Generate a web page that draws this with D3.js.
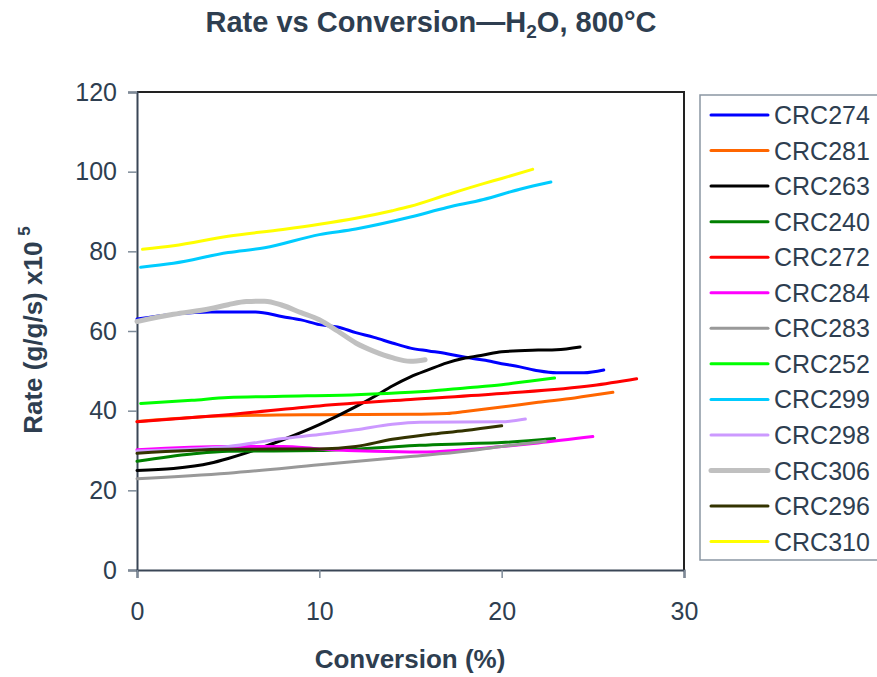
<!DOCTYPE html>
<html>
<head>
<meta charset="utf-8">
<script src="https://cdn.jsdelivr.net/npm/d3@7"></script>
<style>
  body { margin: 0; background: #fff; }
  text { font-family: "Liberation Sans", Arial, sans-serif; fill: #2e3e50; }
</style>
</head>
<body>
<svg width="877" height="677"></svg>
<script>
// series names, in legend order
var names = ["CRC274", "CRC281", "CRC263", "CRC240", "CRC272", "CRC284", "CRC283",
             "CRC252", "CRC299", "CRC298", "CRC306", "CRC296", "CRC310"];

var colors = ["#0000ff", "#ff6600", "#000000", "#008000", "#ff0000", "#ff00ff", "#999999",
              "#00ff00", "#00ccff", "#cc99ff", "#c0c0c0", "#333300", "#ffff00"];

// [conversion %, rate x10^5]
var crc274 = [[0,63],[2,64.2],[4,64.8],[6.5,64.8],[8,63.6],[9,62.8],[10,61.6],[11,61],[12,59.6],[13,58.4],[14,57],[15,55.7],[16,55],[17,54.3],[18,53.4],[19,52.7],[20,51.8],[21,51],[22,50],[23,49.5],[24.5,49.5],[25.6,50.2]];
var crc281 = [[0,37.3],[3,38.3],[5,38.7],[10,39],[15,39.1],[17,39.3],[18,39.8],[20,40.9],[22,42.1],[24,43.2],[26.1,44.6]];
var crc263 = [[0,25],[2,25.5],[4,26.8],[5,28],[6,29.4],[8,32.7],[10,36.5],[12,41],[13,43.5],[14,46.2],[15,48.5],[16,50.3],[17,52],[18,53.2],[19,54],[20,54.8],[22,55.2],[23,55.3],[24.3,56]];
var crc240 = [[0,27.3],[3,29.1],[5,29.8],[10,30],[13,30.6],[15.5,31.3],[18,31.7],[20,32],[22.9,33]];
var crc272 = [[0,37.2],[5,39],[10,41.2],[15,42.8],[20,44.3],[25,46.3],[27.4,48]];
var crc284 = [[0,30.2],[5,31],[8,31],[10,30.4],[13,29.8],[15.5,29.6],[18,30.2],[20,31],[22,31.9],[25,33.5]];
var crc283 = [[0,22.9],[5,24.3],[10,26.4],[15,28.5],[18,29.8],[20,31],[22.4,32.3]];
var crc252 = [[0.2,41.8],[3,42.6],[5,43.3],[8,43.6],[12,44],[15,44.6],[16,44.9],[18,45.7],[20,46.5],[21.5,47.4],[22.9,48.2]];
var crc299 = [[0.2,76],[2,77],[5,79.7],[7,80.9],[10,84.2],[12,85.6],[15,88.6],[17,91],[19,93],[21,95.6],[22.7,97.4]];
var crc298 = [[0,29.9],[5,31],[8,33],[10,34],[12,35.2],[14,36.6],[15.5,37.1],[20,37.2],[21.3,37.9]];
var crc306 = [[0,62.4],[2,64.2],[4,65.6],[5,66.6],[6,67.4],[7,67.5],[8,66.4],[9,64.6],[10,62.8],[11,60],[12,57],[13,54.9],[14,53.3],[15,52.4],[15.8,52.8]];
var crc296 = [[0,29.3],[5,30.3],[10,30.4],[12,31],[14,32.8],[16,34],[18,35],[20,36.2]];
var crc310 = [[0.3,80.5],[2,81.4],[5,83.8],[8,85.5],[10,86.8],[12,88.3],[14,90.2],[15,91.3],[17,94.2],[19,97],[20,98.3],[21.7,100.6]];

var seriesData = [crc274, crc281, crc263, crc240, crc272, crc284, crc283,
                  crc252, crc299, crc298, crc306, crc296, crc310];

var xTicks = [0, 10, 20, 30];
var yTicks = [0, 20, 40, 60, 80, 100, 120];

draw();

function draw() {
  var svg = d3.select("svg");
  var plotLeft = 137, plotRight = 684, plotTop = 92, plotBottom = 570;

  var x = d3.scaleLinear().domain([0, 30]).range([plotLeft, plotRight]);
  var y = d3.scaleLinear().domain([0, 120]).range([plotBottom, plotTop]);

  // title
  svg.append("text")
    .attr("x", 431).attr("y", 32)
    .attr("text-anchor", "middle")
    .style("font-size", "29px").style("font-weight", "bold")
    .html('Rate vs Conversion\u2014H<tspan font-size="19px" dy="6">2</tspan><tspan dy="-6">O, 800\u00b0C</tspan>');

  // frame top/right
  svg.append("path")
    .attr("d", "M" + plotLeft + "," + plotTop + "H" + plotRight + "V" + plotBottom)
    .attr("fill", "none").attr("stroke", "#222").attr("stroke-width", 2);

  // axes
  var yAxis = svg.append("g")
    .attr("transform", "translate(" + plotLeft + ",0)")
    .call(d3.axisLeft(y).tickValues(yTicks).tickSize(9).tickPadding(11));
  var xAxis = svg.append("g")
    .attr("transform", "translate(0," + plotBottom + ")")
    .call(d3.axisBottom(x).tickValues(xTicks).tickSize(8).tickPadding(24));

  [yAxis, xAxis].forEach(function(a) {
    a.select(".domain").attr("stroke", "#3a4656").attr("stroke-width", 2);
    a.selectAll(".tick line").attr("stroke", "#7d8a98").attr("stroke-width", 1.5);
    a.selectAll(".tick text")
      .style("font-size", "25px")
      .style("font-family", '"Liberation Sans", Arial, sans-serif')
      .attr("fill", "#2e3e50");
  });

  // axis titles
  svg.append("text")
    .attr("x", 410).attr("y", 668)
    .attr("text-anchor", "middle")
    .style("font-size", "26px").style("font-weight", "bold")
    .text("Conversion (%)");

  svg.append("text")
    .attr("transform", "translate(42,330) rotate(-90)")
    .attr("text-anchor", "middle")
    .style("font-size", "26px").style("font-weight", "bold")
    .html('Rate (g/g/s) x10<tspan font-size="17px" dx="6" dy="-12">5</tspan>');

  // lines
  var line = d3.line()
    .x(function(d) { return x(d[0]); })
    .y(function(d) { return y(d[1]); })
    .curve(d3.curveMonotoneX);

  svg.append("g").selectAll("path")
    .data(seriesData)
    .enter().append("path")
      .attr("d", line)
      .attr("fill", "none")
      .attr("stroke", function(d, i) { return colors[i]; })
      .attr("stroke-width", function(d, i) { return names[i] == "CRC306" ? 5 : 3; })
      .attr("stroke-linejoin", "round")
      .attr("stroke-linecap", "round");

  // legend
  var legend = svg.append("g");
  legend.append("rect")
    .attr("x", 700).attr("y", 95).attr("width", 190).attr("height", 465)
    .attr("fill", "#fff").attr("stroke", "#8a96a3").attr("stroke-width", 1.5);

  var item = legend.selectAll("g.item")
    .data(names)
    .enter().append("g")
      .attr("class", "item")
      .attr("transform", function(d, i) { return "translate(0," + (115 + i * 35.55) + ")"; });

  item.append("line")
    .attr("x1", 711).attr("x2", 768)
    .attr("stroke", function(d, i) { return colors[i]; })
    .attr("stroke-width", function(d) { return d == "CRC306" ? 5 : 3; })
    .attr("stroke-linecap", "round");

  item.append("text")
    .attr("x", 774).attr("y", 9)
    .style("font-size", "25px")
    .text(function(d) { return d; });
}
</script>
</body>
</html>
